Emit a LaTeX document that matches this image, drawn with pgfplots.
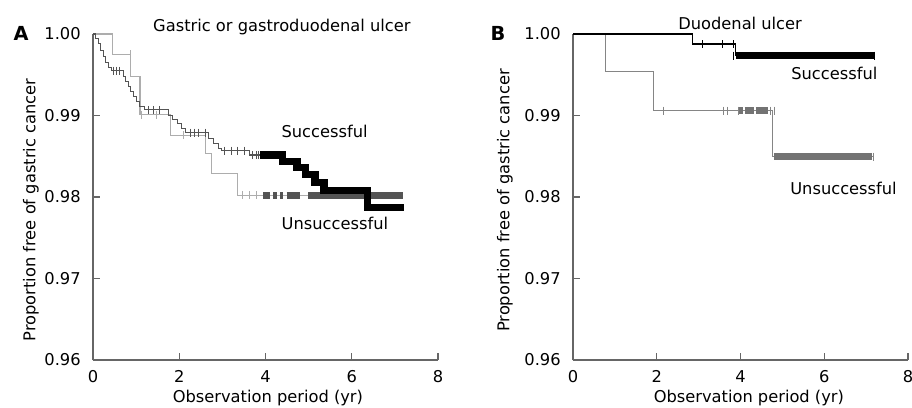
\documentclass[border=0pt]{standalone}
\usepackage{fontspec}
\setmainfont{DejaVu Sans}
\usepackage{pgfplots}
\pgfplotsset{compat=1.18}
\definecolor{lgray}{gray}{0.68}
\definecolor{dgray}{gray}{0.33}
\definecolor{mgray}{gray}{0.52}
\definecolor{bgray}{gray}{0.45}
\definecolor{axgray}{gray}{0.4}
\pgfplotsset{kmstyle/.style={
  scale only axis, height=244.5pt,
  xmin=0, xmax=8, ymin=0.96, ymax=1.0,
  axis x line=bottom, axis y line=left,
  axis line style={-, axgray, line width=0.8pt},
  tick align=inside, major tick length=5pt,
  tick style={axgray, line width=0.8pt},
  xtick={0,2,4,6,8}, ytick={0.96,0.97,0.98,0.99,1.00},
  /pgf/number format/assume math mode=true,
  yticklabel style={/pgf/number format/fixed, /pgf/number format/fixed zerofill, /pgf/number format/precision=2, xshift=-5pt},
  xticklabel style={yshift=-3.5pt},
  clip=false,
  xlabel={Observation period (yr)},
  ylabel={Proportion free of gastric cancer},
  const plot,
}}
\begin{document}
\fontsize{12.2}{14.5}\selectfont
\begin{tikzpicture}
\useasboundingbox (0,0) rectangle (684pt,305.25pt);
% ---------------- Panel A ----------------
\begin{axis}[kmstyle, width=258.75pt, at={(69.75pt,35.25pt)}, anchor=south west,
  xlabel style={at={(rel axis cs:0.507,0)}, anchor=center, yshift=-28.5pt},
  ylabel style={at={(rel axis cs:-0.18,0.46)}, anchor=center}]
% unsuccessful (light gray)
\addplot[lgray, line width=0.8pt] coordinates {
(0,1.0) (0.45,0.9975) (0.88,0.9948) (1.09,0.9901) (1.79,0.9876) (2.60,0.9853) (2.75,0.9829) (3.35,0.9802) (7.19,0.9802)};
\addplot[only marks, mark=|, mark size=3pt, lgray, mark options={line width=0.6pt}] coordinates {
(0.86,0.9975) (1.13,0.9901) (1.48,0.9901) (2.1,0.9876) (3.47,0.9802) (3.62,0.9802) (3.78,0.9802)};
% unsuccessful censor band (dark gray)
\addplot[dgray, line width=5.5pt, sharp plot, unbounded coords=jump] coordinates {
(3.95,0.9802) (4.1,0.9802) (4.1,nan)
(4.18,0.9802) (4.27,0.9802) (4.27,nan)
(4.34,0.9802) (4.40,0.9802) (4.40,nan)
(4.49,0.9802) (4.8,0.9802) (4.8,nan)
(4.99,0.9802) (7.19,0.9802)};
% successful (dark curve)
\addplot[dgray, line width=0.8pt] coordinates {
(0,1.0) (0.05,0.9995) (0.12,0.9988) (0.18,0.9980) (0.24,0.9972) (0.30,0.9965) (0.36,0.9959) (0.42,0.9955)
(0.70,0.9948) (0.76,0.9942) (0.82,0.9936) (0.88,0.9930) (0.94,0.9923) (1.00,0.9917) (1.08,0.9911) (1.20,0.9907)
(1.75,0.9900) (1.85,0.9895) (1.95,0.9890) (2.05,0.9884) (2.15,0.9879)
(2.68,0.9872) (2.80,0.9866) (2.92,0.9860) (2.97,0.9857) (3.62,0.98515) (3.90,0.98515)};
\addplot[only marks, mark=|, mark size=3pt, dgray, mark options={line width=0.6pt}] coordinates {
(0.48,0.9955) (0.55,0.9955) (0.62,0.9955) (1.28,0.9907) (1.40,0.9907) (1.55,0.9907)
(2.25,0.9879) (2.35,0.9879) (2.45,0.9879) (2.60,0.9879)
(3.05,0.9857) (3.20,0.9857) (3.35,0.9857) (3.50,0.9857)
(3.70,0.98515) (3.78,0.98515) (3.84,0.98515)};
% successful censor band (black)
\addplot[black, line width=5.5pt] coordinates {
(3.88,0.98515) (4.39,0.98433) (4.73,0.9836) (4.92,0.98278) (5.15,0.9818) (5.36,0.98077) (6.37,0.97874) (7.22,0.97874)};
\node[anchor=base] at (axis cs:4.38,1.00025) {Gastric or gastroduodenal ulcer};
\node[font=\bfseries\fontsize{14.5}{16}\selectfont] at (axis cs:-1.67,1.0001) {A};
\node[anchor=base] at (axis cs:5.37,0.98724) {Successful};
\node[anchor=base] at (axis cs:5.61,0.97607) {Unsuccessful};
\end{axis}
% ---------------- Panel B ----------------
\begin{axis}[kmstyle, width=251.25pt, at={(429.75pt,35.25pt)}, anchor=south west,
  xlabel style={at={(rel axis cs:0.525,0)}, anchor=center, yshift=-28.5pt},
  ylabel style={at={(rel axis cs:-0.203,0.489)}, anchor=center}]
% unsuccessful (gray)
\addplot[mgray, line width=0.8pt] coordinates {
(0,1.0) (0.78,0.99537) (1.92,0.99059) (4.77,0.98494) (7.18,0.98494)};
\addplot[only marks, mark=|, mark size=3pt, mgray, mark options={line width=0.6pt}] coordinates {
(2.15,0.99059) (3.60,0.99059) (3.68,0.99059) (3.95,0.99059) (4.72,0.99059) (4.80,0.99059) (7.18,0.98494)};
\addplot[bgray, line width=5.5pt, sharp plot, unbounded coords=jump] coordinates {
(3.97,0.99059) (4.05,0.99059) (4.05,nan)
(4.10,0.99059) (4.32,0.99059) (4.32,nan)
(4.36,0.99059) (4.66,0.99059) (4.66,nan)
(4.80,0.98494) (7.15,0.98494)};
% successful (black)
\addplot[black, line width=0.8pt] coordinates {
(0,1.0) (2.86,0.99877) (3.88,0.99734) (7.19,0.99734)};
\addplot[only marks, mark=|, mark size=3pt, black, mark options={line width=0.6pt}] coordinates {
(3.10,0.99877) (3.57,0.99877) (3.84,0.99877) (3.82,0.99734) (7.20,0.99734)};
\addplot[black, line width=5.5pt, sharp plot] coordinates {
(3.90,0.99734) (7.19,0.99734)};
\node[anchor=base] at (axis cs:3.99,1.0006) {Duodenal ulcer};
\node[font=\bfseries\fontsize{14.5}{16}\selectfont] at (axis cs:-1.79,1.0001) {B};
\node[anchor=base] at (axis cs:6.24,0.99436) {Successful};
\node[anchor=base] at (axis cs:6.46,0.98025) {Unsuccessful};
\end{axis}
\end{tikzpicture}
\end{document}
